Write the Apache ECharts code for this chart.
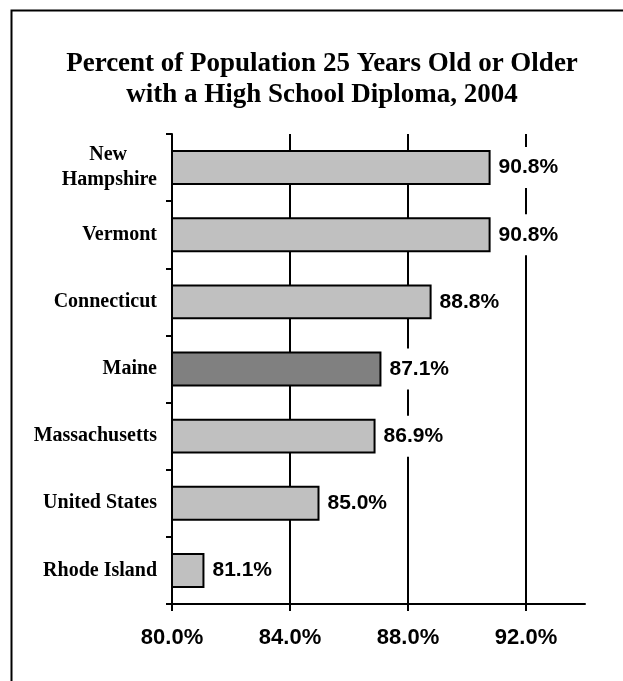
<!DOCTYPE html>
<html>
<head>
<meta charset="utf-8">
<script src="https://cdn.jsdelivr.net/npm/echarts@6/dist/echarts.min.js"></script>
<style>
html,body{margin:0;padding:0;background:#fff;}
#c{width:623px;height:681px;}
</style>
</head>
<body>
<div id="c"></div>
<script>
const categories = ['New Hampshire', 'Vermont', 'Connecticut', 'Maine', 'Massachusetts', 'United States', 'Rhode Island'];
const values = [90.8, 90.8, 88.8, 87.1, 86.9, 85.0, 81.1];
const highlight = 'Maine';
const axisMin = 80, axisMax = 94, axisStep = 4;
const titleText = 'Percent of Population 25 Years Old or Older\nwith a High School Diploma, 2004';

const catFont = 'bold 20px "Liberation Serif"';
function centeredTwoLine(a, b) {
  const ctx = document.createElement('canvas').getContext('2d');
  ctx.font = catFont;
  const wa = ctx.measureText(a).width, wb = ctx.measureText(b).width, ws = ctx.measureText(' ').width;
  const n = Math.max(0, Math.round((wb - wa) / 2 / ws));
  return a + ' '.repeat(n) + '\n' + b;
}

const chart = echarts.init(document.getElementById('c'), null, {renderer: 'canvas'});
const option = {
  backgroundColor: '#fff',
  animation: false,
  graphic: [{
    type: 'rect', left: 9, top: 8, z: 100, silent: true,
    shape: {x: 0, y: 0, width: 700, height: 700},
    style: {fill: 'none', stroke: '#000', lineWidth: 2}
  }],
  title: {
    text: titleText,
    left: 317, top: 44, textAlign: 'center',
    textStyle: {fontFamily: 'Liberation Serif', fontWeight: 'bold', fontSize: 27, lineHeight: 31, color: '#000'}
  },
  grid: {left: 172, right: 38, top: 134, bottom: 77, containLabel: false},
  xAxis: {
    type: 'value', min: axisMin, max: axisMax, interval: axisStep,
    axisLine: {show: true, lineStyle: {color: '#000', width: 2}},
    axisTick: {show: true, length: 7, lineStyle: {color: '#000', width: 2}},
    splitLine: {show: true, showMaxLine: false, lineStyle: {color: '#000', width: 2}},
    axisLabel: {
      showMaxLabel: false, margin: 23,
      fontFamily: 'Liberation Sans', fontWeight: 'bold', fontSize: 22, color: '#000',
      formatter: v => (v === axisMax ? '' : v.toFixed(1) + '%')
    }
  },
  yAxis: {
    type: 'category', inverse: true, data: categories,
    axisLine: {show: true, lineStyle: {color: '#000', width: 2}},
    axisTick: {show: true, length: 6, inside: false, lineStyle: {color: '#000', width: 2}},
    axisLabel: {
      margin: 15, fontFamily: 'Liberation Serif', fontWeight: 'bold', fontSize: 20, color: '#000', lineHeight: 25,
      formatter: v => (v === 'New Hampshire' ? centeredTwoLine('New', 'Hampshire') : v)
    }
  },
  series: [{
    type: 'bar',
    barCategoryGap: '48%',
    data: values.map((v, i) => ({
      value: v,
      itemStyle: {color: categories[i] === highlight ? '#808080' : '#c0c0c0'}
    })),
    itemStyle: {borderColor: '#000', borderWidth: 2},
    label: {
      show: true, position: 'right', distance: 5,
      fontFamily: 'Liberation Sans', fontWeight: 'bold', fontSize: 21, color: '#000',
      backgroundColor: '#fff', padding: [10, 3],
      formatter: p => p.value.toFixed(1) + '%'
    }
  }]
};
chart.setOption(option);
</script>
</body>
</html>
